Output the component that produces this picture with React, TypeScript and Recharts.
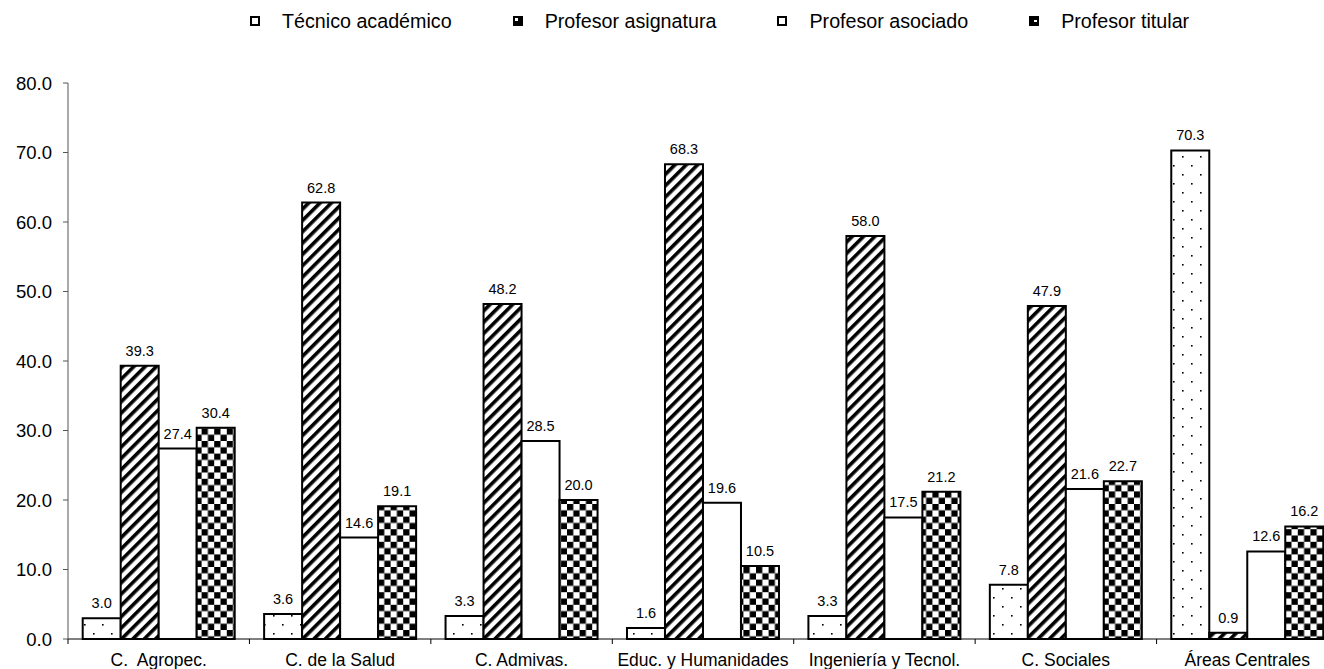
import React from 'react';
import { BarChart, Bar, XAxis, YAxis, LabelList } from 'recharts';

const categories = [
  'C.  Agropec.',
  'C. de la Salud',
  'C. Admivas.',
  'Educ. y Humanidades',
  'Ingeniería y Tecnol.',
  'C. Sociales',
  'Áreas Centrales',
];
const tecnico = [3.0, 3.6, 3.3, 1.6, 3.3, 7.8, 70.3];
const asignatura = [39.3, 62.8, 48.2, 68.3, 58.0, 47.9, 0.9];
const asociado = [27.4, 14.6, 28.5, 19.6, 17.5, 21.6, 12.6];
const titular = [30.4, 19.1, 20.0, 10.5, 21.2, 22.7, 16.2];
const yTicks = [0, 10, 20, 30, 40, 50, 60, 70, 80];

const seriesNames = ['Técnico académico', 'Profesor asignatura', 'Profesor asociado', 'Profesor titular'];

const data = categories.map((c, i) => ({
  cat: c,
  tecnico: tecnico[i],
  asignatura: asignatura[i],
  asociado: asociado[i],
  titular: titular[i],
}));

const CHART_W = 1400;
const CHART_H = 669;
const MARGIN = { top: 83, right: 62, left: 0, bottom: 0 };
const Y_W = 68;
const BAND = (CHART_W - MARGIN.left - MARGIN.right - Y_W) / categories.length;
const FONT = '"Liberation Sans", Arial, sans-serif';

// category label centred in the band, small tick at the band's left edge
function CatTick(props: any) {
  const { x, y, payload } = props;
  const half = payload && payload.offset ? payload.offset : BAND / 2;
  return (
    <g>
      <line x1={x - half} x2={x - half} y1={y} y2={y + 5} stroke="#000" strokeWidth={1} />
      <text
        x={x}
        y={y + 26.5}
        textAnchor="middle"
        fontSize={17.5}
        fill="#000"
        style={{ whiteSpace: 'pre' }}
      >
        {payload.value}
      </text>
    </g>
  );
}

function LegendIcon({ kind }: { kind: number }) {
  return (
    <svg width={10} height={10} style={{ display: 'block' }}>
      <rect x={1} y={1} width={8} height={8} fill={kind === 1 || kind === 3 ? '#000' : '#fff'} stroke="#000" strokeWidth={2} />
      {kind === 1 && <rect x={2} y={2} width={3} height={3} fill="#fff" />}
      {kind === 3 && <rect x={5} y={4} width={3} height={2} fill="#fff" />}
    </svg>
  );
}

const fmt = (v: any) => Number(v).toFixed(1);

export default function App() {
  return (
    <div
      style={{
        position: 'absolute',
        left: 0,
        top: 0,
        width: 1324,
        height: 669,
        overflow: 'hidden',
        background: '#fff',
        fontFamily: FONT,
      }}
    >
      <div
        style={{
          position: 'absolute',
          top: 9,
          left: 250,
          display: 'flex',
          alignItems: 'center',
          height: 24,
          lineHeight: '24px',
          fontSize: 19.7,
          color: '#000',
          whiteSpace: 'nowrap',
        }}
      >
        {seriesNames.map((n, i) => (
          <div key={n} style={{ display: 'flex', alignItems: 'center', marginRight: 61 }}>
            <LegendIcon kind={i} />
            <span style={{ marginLeft: 22 }}>{n}</span>
          </div>
        ))}
      </div>
      <BarChart
        width={CHART_W}
        height={CHART_H}
        data={data}
        margin={MARGIN}
        barCategoryGap="8.1%"
        barGap={0}
      >
        <defs>
          <pattern id="dots" width={18} height={18} patternUnits="userSpaceOnUse">
            <rect width={18} height={18} fill="#fff" />
            <rect x={3} y={3} width={1.6} height={1.6} fill="#000" />
            <rect x={12} y={12} width={1.6} height={1.6} fill="#000" />
          </pattern>
          <pattern id="stripes" width={8} height={8} patternUnits="userSpaceOnUse" patternTransform="rotate(45)">
            <rect width={8} height={8} fill="#fff" />
            <rect width={3.6} height={8} fill="#000" />
          </pattern>
          <pattern id="checker" width={12.6} height={12.6} patternUnits="userSpaceOnUse">
            <rect width={12.6} height={12.6} fill="#fff" />
            <rect width={6.3} height={6.3} fill="#000" />
            <rect x={6.3} y={6.3} width={6.3} height={6.3} fill="#000" />
          </pattern>
        </defs>
        <XAxis
          dataKey="cat"
          height={30}
          axisLine={{ stroke: '#000', strokeWidth: 1 }}
          tickLine={false}
          tickSize={0}
          tickMargin={0}
          tick={<CatTick />}
          interval={0}
        />
        <YAxis
          width={Y_W}
          domain={[0, 80]}
          ticks={yTicks}
          tickFormatter={fmt}
          axisLine={{ stroke: '#555' }}
          tickLine={{ stroke: '#555' }}
          tickSize={5}
          tickMargin={11}
          tick={{ fill: '#000', fontSize: 18.5 }}
          interval={0}
        />
        <Bar dataKey="tecnico" fill="url(#dots)" stroke="#000" strokeWidth={2} isAnimationActive={false}>
          <LabelList dataKey="tecnico" position="top" offset={10} formatter={fmt} fill="#000" fontSize={14.5} />
        </Bar>
        <Bar dataKey="asignatura" fill="url(#stripes)" stroke="#000" strokeWidth={2} isAnimationActive={false}>
          <LabelList dataKey="asignatura" position="top" offset={10} formatter={fmt} fill="#000" fontSize={14.5} />
        </Bar>
        <Bar dataKey="asociado" fill="#fff" stroke="#000" strokeWidth={2} isAnimationActive={false}>
          <LabelList dataKey="asociado" position="top" offset={10} formatter={fmt} fill="#000" fontSize={14.5} />
        </Bar>
        <Bar dataKey="titular" fill="url(#checker)" stroke="#000" strokeWidth={2} isAnimationActive={false}>
          <LabelList dataKey="titular" position="top" offset={10} formatter={fmt} fill="#000" fontSize={14.5} />
        </Bar>
      </BarChart>
    </div>
  );
}
